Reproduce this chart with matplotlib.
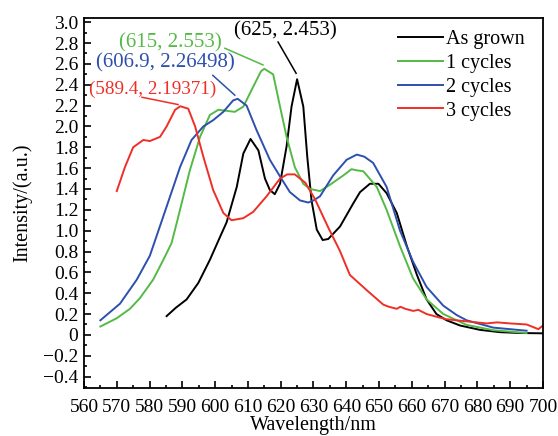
import numpy as np
import matplotlib
matplotlib.use('Agg')
from matplotlib import pyplot as plt
from matplotlib.ticker import MultipleLocator, FuncFormatter

# DATA.
grown_wl = [585.2, 588.0, 591.3, 594.9, 598.4, 601.5, 603.5, 606.6, 608.6, 610.8, 613.2, 615.2, 616.7, 618.2,
            619.8, 621.8, 623.3, 625.0, 626.9, 628.1, 629.4, 631.0, 632.8, 634.5, 638.1, 642.1, 644.2, 647.2,
            649.8, 652.3, 655.4, 658.5, 661.5, 664.5, 667.5, 670.6, 674.7, 680.8, 686.9, 693.0, 700.0]
grown_int = [0.18, 0.26, 0.34, 0.50, 0.72, 0.94, 1.08, 1.42, 1.74, 1.88, 1.77, 1.50, 1.39, 1.35,
             1.45, 1.81, 2.19, 2.453, 2.19, 1.71, 1.29, 1.01, 0.91, 0.92, 1.04, 1.26, 1.37, 1.45,
             1.45, 1.36, 1.17, 0.85, 0.58, 0.34, 0.20, 0.14, 0.09, 0.048, 0.026, 0.018, 0.015]

c1_wl = [565.0, 570.0, 574.0, 577.0, 581.1, 584.2, 586.7, 588.5, 592.3, 595.4, 598.4, 601.0, 603.5, 606.0,
         608.6, 611.6, 614.0, 615.0, 617.7, 619.8, 621.8, 624.3, 626.9, 629.0, 632.0, 635.0, 639.1, 641.6,
         643.0, 645.2, 649.3, 652.3, 656.4, 660.4, 664.5, 669.6, 676.7, 684.8, 695.0]
c1_int = [0.08, 0.16, 0.25, 0.35, 0.53, 0.72, 0.88, 1.10, 1.58, 1.90, 2.11, 2.16, 2.15, 2.14,
          2.19, 2.38, 2.53, 2.553, 2.50, 2.19, 1.90, 1.61, 1.45, 1.40, 1.38, 1.44, 1.53, 1.59,
          1.58, 1.57, 1.42, 1.20, 0.85, 0.54, 0.34, 0.20, 0.096, 0.045, 0.018]

c2_wl = [565.0, 571.0, 576.1, 580.1, 585.2, 589.3, 592.8, 596.4, 599.4, 602.5, 605.5, 606.9, 609.6, 612.7,
         616.7, 619.8, 622.8, 625.9, 628.4, 630.0, 632.0, 636.0, 640.1, 643.2, 645.5, 648.2, 652.3, 656.4,
         660.4, 664.5, 669.6, 673.7, 676.7, 684.8, 695.0]
c2_int = [0.14, 0.30, 0.53, 0.76, 1.23, 1.61, 1.87, 2.00, 2.06, 2.14, 2.25, 2.265, 2.20, 1.96,
          1.68, 1.52, 1.37, 1.29, 1.27, 1.29, 1.33, 1.53, 1.68, 1.73, 1.71, 1.65, 1.42, 1.00,
          0.70, 0.46, 0.28, 0.19, 0.14, 0.07, 0.04]

c3_wl = [570.0, 572.5, 575.0, 578.1, 580.1, 583.2, 585.2, 587.8, 589.4, 591.8, 593.9, 596.4, 599.4, 602.5,
         605.0, 608.6, 611.6, 615.7, 619.8, 622.0, 624.3, 627.5, 630.5, 634.5, 638.0, 641.1, 646.2, 651.3,
         653.0, 655.4, 656.5, 658.0, 660.4, 662.0, 664.5, 668.0, 670.6, 676.7, 682.8, 686.0, 689.9, 695.0,
         698.6, 700.0]
c3_int = [1.38, 1.61, 1.80, 1.87, 1.86, 1.90, 2.00, 2.16, 2.194, 2.17, 2.00, 1.71, 1.39, 1.17,
          1.10, 1.12, 1.18, 1.33, 1.50, 1.54, 1.54, 1.46, 1.30, 1.03, 0.81, 0.575, 0.43, 0.29,
          0.27, 0.25, 0.27, 0.25, 0.23, 0.24, 0.20, 0.17, 0.15, 0.13, 0.11, 0.12, 0.11, 0.10,
          0.055, 0.09]

series_labels = ['As grown', '1 cycles', '2 cycles', '3 cycles']
series_colors = ['#000000', '#55b947', '#2d4fae', '#ef2f27']

# PEAK LABELS: text, text position, font size, leader line start and end.
peak_texts = ['(625, 2.453)', '(615, 2.553)', '(606.9, 2.26498)', '(589.4, 2.19371)']
peak_text_xy = [(621.3, 2.92), (586.5, 2.80), (584.7, 2.61), (581.0, 2.36)]
peak_text_size = [15, 15, 15, 13.8]
peak_line_from = [(619.2, 2.81), (603.0, 2.75), (599.3, 2.49), (577.7, 2.28)]
peak_line_to = [(624.7, 2.51), (614.6, 2.59), (606.0, 2.30), (588.7, 2.21)]


def main():
    plt.rcParams['font.family'] = ['Liberation Serif', 'DejaVu Serif']
    plt.rcParams['font.size'] = 14

    fig = plt.figure(figsize=(5.58, 4.36), dpi=100)
    ax = fig.add_axes([0.1505, 0.110, 0.8226, 0.8486])

    data = [(grown_wl, grown_int), (c1_wl, c1_int), (c2_wl, c2_int), (c3_wl, c3_int)]
    for (wl, intensity), label, color in zip(data, series_labels, series_colors):
        ax.plot(wl, intensity, color=color, lw=1.4, label=label)

    for text, txy, size, p0, p1, color in zip(peak_texts, peak_text_xy, peak_text_size,
                                               peak_line_from, peak_line_to, series_colors):
        ax.text(txy[0], txy[1], text, color=color, ha='center', va='center', fontsize=size)
        ax.plot([p0[0], p1[0]], [p0[1], p1[1]], color=color, lw=1.1)

    # AXES SETTINGS.
    ax.set_xlim(560, 700)
    ax.set_ylim(-0.51, 3.04)
    ax.xaxis.set_major_locator(MultipleLocator(10))
    ax.xaxis.set_minor_locator(MultipleLocator(5))
    ax.set_yticks(np.arange(-0.4, 3.01, 0.2))
    ax.yaxis.set_minor_locator(MultipleLocator(0.1))
    ax.yaxis.set_major_formatter(FuncFormatter(
        lambda v, pos: '0' if abs(v) < 1e-9 else ('%.1f' % v).replace('-', '\u2212')))
    ax.tick_params(which='both', direction='in', top=False, right=False, labelsize=14, width=1.2)
    ax.tick_params(which='major', length=5)
    ax.tick_params(axis='x', which='major', pad=8)
    ax.tick_params(axis='y', which='major', pad=4)
    ax.tick_params(which='minor', length=2.5)
    for spine in ax.spines.values():
        spine.set_linewidth(1.3)

    ax.set_xlabel('Wavelength/nm', fontsize=14.5, labelpad=0)
    ax.set_ylabel('Intensity/(a.u.)', fontsize=14.5, labelpad=8)

    ax.legend(loc='upper right', bbox_to_anchor=(1.0, 1.016), frameon=False, handlelength=2.25,
              handletextpad=0.15, labelspacing=0.23, borderaxespad=0.5, fontsize=14.5)

    fig.savefig('out.png', dpi=100)


if __name__ == '__main__':
    main()
